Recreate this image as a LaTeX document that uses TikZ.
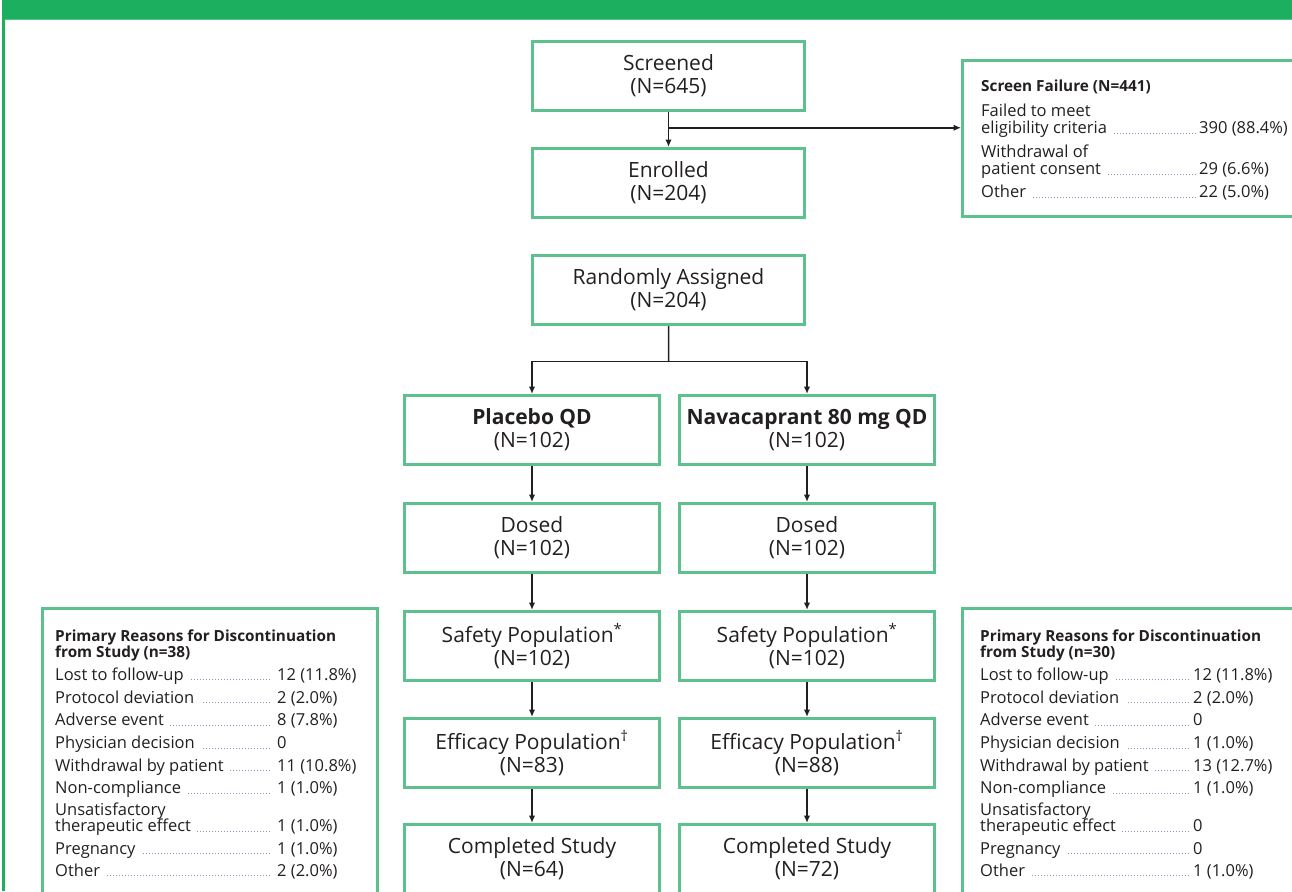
\documentclass[tikz,border=0pt]{standalone}
\usepackage{fontspec}
\setmainfont{Open Sans}
\usepackage{xcolor}
\usetikzlibrary{arrows.meta,positioning,calc}
\definecolor{HeadGreen}{RGB}{27,175,95}
\definecolor{BoxGreen}{RGB}{92,193,140}
\definecolor{InkGray}{RGB}{35,31,32}
\definecolor{LeaderBlue}{RGB}{130,152,188}

\newlength{\rowlabw}
\newcommand{\dotlead}{\leaders\hbox to 3pt{\hss\textcolor{LeaderBlue}{\rule{1pt}{1pt}}\hss}\hfill}
\newcommand{\rrow}[3][5pt]{\hbox to \rowlabw{#2\hspace{5pt}\dotlead\hspace{#1}}#3}
\newcommand{\listhead}[1]{{\fontsize{15.3}{16}\selectfont\bfseries #1}}
\newcommand{\listfont}{\fontsize{16.5}{16}\selectfont\lineskiplimit=-20pt\relax\lineskip=0pt\relax}

\begin{document}
\begin{tikzpicture}[x=1pt, y=1pt, node distance=35pt,
  every node/.style={text=InkGray},
  flowbox/.style={draw=BoxGreen, line width=3pt, minimum width=272pt, minimum height=69pt, align=center, font=\fontsize{21}{23}\selectfont},
  armbox/.style={flowbox, minimum width=255pt},
  sidebox/.style={draw=BoxGreen, line width=3pt, anchor=north west},
  listtext/.style={anchor=north west, align=left, inner sep=0pt, font=\listfont},
  flowarrow/.style={-{Latex[length=7.5pt,width=6.5pt]}, line width=1.5pt, draw=InkGray}]
\useasboundingbox (0,0) rectangle (1292,-891);
\clip (0,0) rectangle (1292,-891);

% frame
\fill[HeadGreen] (2,0) rectangle (1292,-19);
\draw[BoxGreen, line width=1pt] (4,-19.5) -- (1292,-19.5);
\draw[HeadGreen, line width=2.5pt] (3.3,-19) -- (3.3,-891);

% main column
\node[flowbox] (screened) at (668.5,-76) {Screened\\(N=645)};
\node[flowbox, below=35pt of screened] (enrolled) {Enrolled\\(N=204)};
\node[flowbox, below=35pt of enrolled] (random) {Randomly Assigned\\(N=204)};

% arms
\node[armbox, below=68pt of random, xshift=-136.5pt] (placebo) {\textbf{Placebo QD}\\(N=102)};
\node[armbox, right=17pt of placebo] (nava) {\textbf{Navacaprant 80 mg QD}\\(N=102)};
\node[armbox, below=36pt of placebo] (dosedP) {Dosed\\(N=102)};
\node[armbox, below=36pt of nava] (dosedN) {Dosed\\(N=102)};
\node[armbox, below=36pt of dosedP] (safeP) {Safety Population\textsuperscript{*}\\(N=102)};
\node[armbox, below=36pt of dosedN] (safeN) {Safety Population\textsuperscript{*}\\(N=102)};
\node[armbox, below=35pt of safeP] (effP) {Efficacy Population\textsuperscript{†}\\(N=83)};
\node[armbox, below=35pt of safeN] (effN) {Efficacy Population\textsuperscript{†}\\(N=88)};
\node[armbox, below=34pt of effP] (doneP) {Completed Study\\(N=64)};
\node[armbox, below=34pt of effN] (doneN) {Completed Study\\(N=72)};

% side boxes
\node[sidebox, minimum width=400pt, minimum height=156pt] (failbox) at (961,-59) {};
\global\rowlabw=218pt
\node[listtext] (failtext) at ([xshift=20pt, yshift=-21pt]failbox.north west) {%
  \listhead{Screen Failure (N=441)}\\[9pt]
  Failed to meet\\[0.8pt]
  \rrow[1pt]{eligibility criteria}{390 (88.4\%)}\\[8pt]
  Withdrawal of\\[1pt]
  \rrow[1pt]{patient consent}{29 (6.6\%)}\\[7pt]
  \rrow[1pt]{Other}{22 (5.0\%)}};

\node[sidebox, minimum width=335pt, minimum height=400pt] (leftbox) at (41,-607) {};
\global\rowlabw=222pt
\node[listtext] (lefttext) at ([xshift=14pt, yshift=-22.5pt]leftbox.north west) {%
  \listhead{Primary Reasons for Discontinuation}\\
  \listhead{from Study (n=38)}\\[7pt]
  \rrow{Lost to follow-up}{12 (11.8\%)}\\[6.7pt]
  \rrow{Protocol deviation}{2 (2.0\%)}\\[6.7pt]
  \rrow{Adverse event}{8 (7.8\%)}\\[6.7pt]
  \rrow{Physician decision}{0}\\[6.5pt]
  \rrow{Withdrawal by patient}{11 (10.8\%)}\\[6.5pt]
  \rrow{Non-compliance}{1 (1.0\%)}\\[6.3pt]
  Unsatisfactory\\
  \rrow{therapeutic effect}{1 (1.0\%)}\\[6.2pt]
  \rrow{Pregnancy}{1 (1.0\%)}\\[6.3pt]
  \rrow{Other}{2 (2.0\%)}};

\node[sidebox, minimum width=400pt, minimum height=400pt] (rightbox) at (961,-607) {};
\global\rowlabw=213pt
\node[listtext] (righttext) at ([xshift=19pt, yshift=-22.5pt]rightbox.north west) {%
  \listhead{Primary Reasons for Discontinuation}\\
  \listhead{from Study (n=30)}\\[7pt]
  \rrow[1pt]{Lost to follow-up}{12 (11.8\%)}\\[6.7pt]
  \rrow[1pt]{Protocol deviation}{2 (2.0\%)}\\[6.7pt]
  \rrow[1pt]{Adverse event}{0}\\[6.7pt]
  \rrow[1pt]{Physician decision}{1 (1.0\%)}\\[6.5pt]
  \rrow[1pt]{Withdrawal by patient}{13 (12.7\%)}\\[6.5pt]
  \rrow[1pt]{Non-compliance}{1 (1.0\%)}\\[6.3pt]
  Unsatisfactory\\
  \rrow[1pt]{therapeutic effect}{0}\\[6.2pt]
  \rrow[1pt]{Pregnancy}{0}\\[6.3pt]
  \rrow[1pt]{Other}{1 (1.0\%)}};

% connectors
\coordinate (split1) at ($(screened.south)!0.45!(enrolled.north)$);
\draw[flowarrow] (screened) -- (enrolled);
\draw[flowarrow] (split1) -- (split1 -| failbox.west);
\coordinate (split2) at ($(random.south)!0.52!(random.south |- placebo.north)$);
\draw[line width=1.5pt, draw=InkGray] (random) -- (split2);
\draw[flowarrow] (split2) -| (placebo);
\draw[flowarrow] (split2) -| (nava);
\draw[flowarrow] (placebo) -- (dosedP);
\draw[flowarrow] (nava) -- (dosedN);
\draw[flowarrow] (dosedP) -- (safeP);
\draw[flowarrow] (dosedN) -- (safeN);
\draw[flowarrow] (safeP) -- (effP);
\draw[flowarrow] (safeN) -- (effN);
\draw[flowarrow] (effP) -- (doneP);
\draw[flowarrow] (effN) -- (doneN);
\end{tikzpicture}
\end{document}
